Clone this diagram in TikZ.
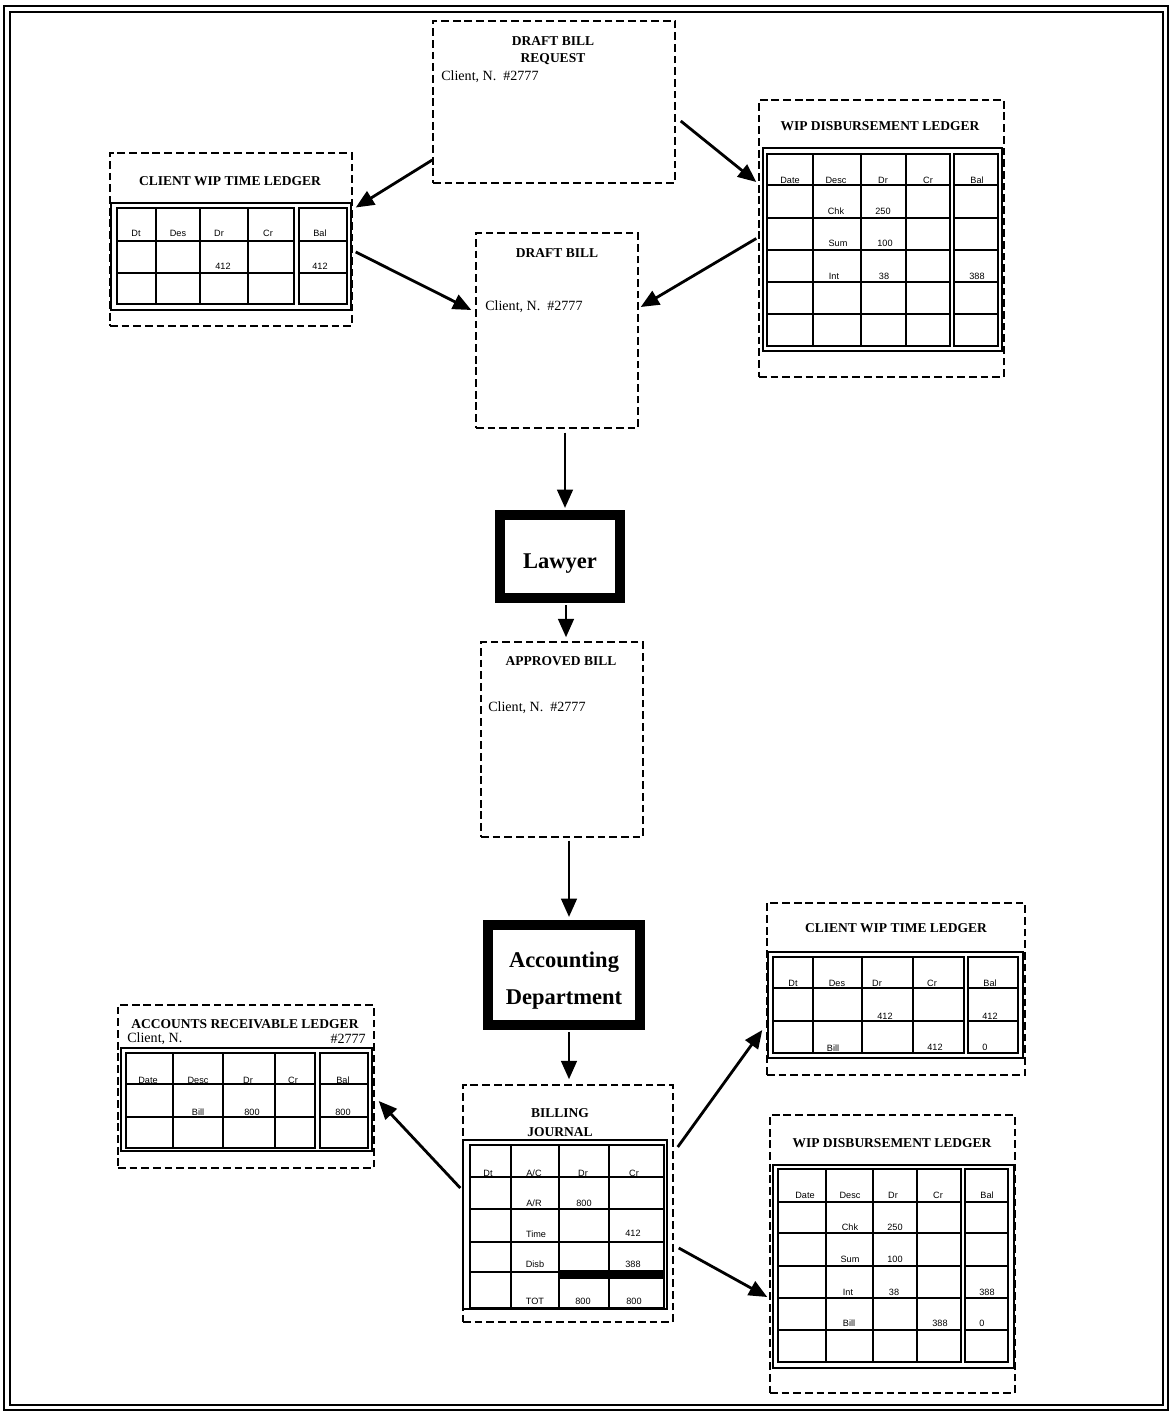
\documentclass[tikz,border=0pt]{standalone}
\usepackage{fontspec}
\setmainfont{Liberation Serif}
\setsansfont{Liberation Sans}
\usetikzlibrary{arrows.meta}

\begin{document}
\begin{tikzpicture}[x=0.025cm, y=-0.025cm]
\tikzstyle{every node}+=[inner sep=0pt]
\tikzstyle{doc}=[draw, rectangle, line width=1pt, dash pattern=on 5.5pt off 2.8pt]
\tikzstyle{actor}=[draw, rectangle, line width=0.25cm, font=\fontsize{16}{26.5}\selectfont\bfseries]
\tikzstyle{title}=[font=\fontsize{9.6}{11}\selectfont\bfseries]
\tikzstyle{client}=[anchor=west, font=\fontsize{10}{12}\selectfont]
\tikzstyle{cell}=[font=\fontsize{6.5}{7}\selectfont\sffamily]
\tikzstyle{tabout}=[line width=2pt, fill=white]
\tikzstyle{tabline}=[line width=1pt]
\tikzstyle{flow}=[line width=2pt, -{Triangle[length=13pt, width=11pt]}]
\useasboundingbox (0,0) rectangle (1174,1413);
% page frame
\draw [black, line width=1.5pt] (4,6) rectangle (1168,1410);
\draw [black, line width=1pt] (10,12) rectangle (1163,1405);
% documents and people
\node [doc, minimum width=6.05cm, minimum height=4.05cm] (req) at (554,102) {};
\node [doc, minimum width=4.05cm, minimum height=4.875cm] (dbill) at (557,330.5) {};
\node [actor, minimum width=3cm, minimum height=2.075cm] (lawyer) at (560,556.5) {\raisebox{-5pt}[\height][\depth]{Lawyer}};
\node [doc, minimum width=4.05cm, minimum height=4.875cm] (abill) at (562,739.5) {};
\node [actor, minimum width=3.8cm, minimum height=2.5cm] (acct) at (564,975) {\raisebox{-2.5pt}[\height][\depth]{\begin{tabular}{@{}c@{}}Accounting\\Department\end{tabular}}};
\node [doc, minimum width=5.25cm, minimum height=5.925cm] (bj) at (568,1203.5) {};
\node [doc, minimum width=6.05cm, minimum height=4.325cm] (ctl) at (231,239.5) {};
\node [doc, minimum width=6.125cm, minimum height=6.925cm] (wdl) at (881.5,238.5) {};
\node [doc, minimum width=6.4cm, minimum height=4.075cm] (arl) at (246,1086.5) {};
\node [doc, minimum width=6.45cm, minimum height=4.3cm] (ctlb) at (896,989) {};
\node [doc, minimum width=6.125cm, minimum height=6.95cm] (wdlb) at (892.5,1254) {};
% headings
\node [title] (reqt) at (553,41) {DRAFT BILL};
\node [title] (reqs) at (553,59) {REQUEST};
\node [client] (reqc) at (441,77) {Client, N.\ \ \#2777};
\node [title] (dbillt) at (557,253) {DRAFT BILL};
\node [client] (dbillc) at (485,307) {Client, N.\ \ \#2777};
\node [title] (abillt) at (561,661) {APPROVED BILL};
\node [client] (abillc) at (488,708) {Client, N.\ \ \#2777};
\node [title] (ctlt) at (230,181) {CLIENT WIP TIME LEDGER};
\node [title] (wdlt) at (880,126) {WIP DISBURSEMENT LEDGER};
\node [title] (arlt) at (245,1024) {ACCOUNTS RECEIVABLE LEDGER};
\node [client] (arlc) at (127,1039) {Client, N.};
\node [client, anchor=east] (arln) at (366,1039) {\#2777};
\node [title] (bjt) at (560,1113) {BILLING};
\node [title] (bjs) at (560,1132) {JOURNAL};
\node [title] (ctlbt) at (896,928) {CLIENT WIP TIME LEDGER};
\node [title] (wdlbt) at (892,1143) {WIP DISBURSEMENT LEDGER};
% client wip time ledger, top
\draw [tabout] (111,203) rectangle (351,310);
\draw [tabline] (117,208) rectangle (294,304) (299,208) rectangle (347,304);
\draw [tabline] (156,208) -- (156,304) (200,208) -- (200,304) (248,208) -- (248,304) (117,241) -- (294,241) (117,273) -- (294,273) (299,241) -- (347,241) (299,273) -- (347,273);
\node [cell] (ctl11) at (136,233) {Dt};
\node [cell] (ctl12) at (178,233) {Des};
\node [cell] (ctl13) at (219,233) {Dr};
\node [cell] (ctl14) at (268,233) {Cr};
\node [cell] (ctl15) at (320,233) {Bal};
\node [cell] (ctl23) at (223,266) {412};
\node [cell] (ctl25) at (320,266) {412};
% wip disbursement ledger, top
\draw [tabout] (763,148) rectangle (1002,351);
\draw [tabline] (767,154) rectangle (950,346) (954,154) rectangle (998,346);
\draw [tabline] (813,154) -- (813,346) (861,154) -- (861,346) (906,154) -- (906,346) (767,185) -- (950,185) (767,218) -- (950,218) (767,250) -- (950,250) (767,282) -- (950,282) (767,314) -- (950,314) (954,185) -- (998,185) (954,218) -- (998,218) (954,250) -- (998,250) (954,282) -- (998,282) (954,314) -- (998,314);
\node [cell] (wdl11) at (790,180) {Date};
\node [cell] (wdl12) at (836,180) {Desc};
\node [cell] (wdl13) at (883,180) {Dr};
\node [cell] (wdl14) at (928,180) {Cr};
\node [cell] (wdl15) at (977,180) {Bal};
\node [cell] (wdl22) at (836,211) {Chk};
\node [cell] (wdl23) at (883,211) {250};
\node [cell] (wdl32) at (838,243) {Sum};
\node [cell] (wdl33) at (885,243) {100};
\node [cell] (wdl42) at (834,276) {Int};
\node [cell] (wdl43) at (884,276) {38};
\node [cell] (wdl45) at (977,276) {388};
% accounts receivable ledger
\draw [tabout] (121,1048) rectangle (372,1151);
\draw [tabline] (126,1053) rectangle (315,1148) (320,1053) rectangle (368,1148);
\draw [tabline] (173,1053) -- (173,1148) (223,1053) -- (223,1148) (275,1053) -- (275,1148) (126,1084) -- (315,1084) (126,1117) -- (315,1117) (320,1084) -- (368,1084) (320,1117) -- (368,1117);
\node [cell] (arl11) at (148,1080) {Date};
\node [cell] (arl12) at (198,1080) {Desc};
\node [cell] (arl13) at (248,1080) {Dr};
\node [cell] (arl14) at (293,1080) {Cr};
\node [cell] (arl15) at (343,1080) {Bal};
\node [cell] (arl22) at (198,1112) {Bill};
\node [cell] (arl23) at (252,1112) {800};
\node [cell] (arl25) at (343,1112) {800};
% billing journal
\draw [tabout] (463,1140) rectangle (667,1309);
\draw [tabline] (470,1145) rectangle (664,1308);
\draw [tabline] (511,1145) -- (511,1308) (559,1145) -- (559,1308) (609,1145) -- (609,1308) (470,1177) -- (664,1177) (470,1209) -- (664,1209) (470,1242) -- (664,1242) (470,1272) -- (559,1272);
\fill [black] (559,1270) rectangle (664,1279);
\node [cell] (bj11) at (488,1173) {Dt};
\node [cell] (bj12) at (534,1173) {A/C};
\node [cell] (bj13) at (583,1173) {Dr};
\node [cell] (bj14) at (634,1173) {Cr};
\node [cell] (bj22) at (534,1203) {A/R};
\node [cell] (bj23) at (584,1203) {800};
\node [cell] (bj32) at (536,1234) {Time};
\node [cell] (bj34) at (633,1233) {412};
\node [cell] (bj42) at (535,1264) {Disb};
\node [cell] (bj44) at (633,1264) {388};
\node [cell] (bj52) at (535,1301) {TOT};
\node [cell] (bj53) at (583,1301) {800};
\node [cell] (bj54) at (634,1301) {800};
% client wip time ledger, bottom
\draw [tabout] (768,952) rectangle (1023,1058);
\draw [tabline] (773,957) rectangle (964,1053) (968,957) rectangle (1018,1053);
\draw [tabline] (813,957) -- (813,1053) (862,957) -- (862,1053) (913,957) -- (913,1053) (773,988) -- (964,988) (773,1021) -- (964,1021) (968,988) -- (1018,988) (968,1021) -- (1018,1021);
\node [cell] (ctlb11) at (793,983) {Dt};
\node [cell] (ctlb12) at (837,983) {Des};
\node [cell] (ctlb13) at (877,983) {Dr};
\node [cell] (ctlb14) at (932,983) {Cr};
\node [cell] (ctlb15) at (990,983) {Bal};
\node [cell] (ctlb23) at (885,1016) {412};
\node [cell] (ctlb25) at (990,1016) {412};
\node [cell] (ctlb32) at (833,1048) {Bill};
\node [cell] (ctlb34) at (935,1047) {412};
\node [cell] (ctlb35) at (985,1047) {0};
% wip disbursement ledger, bottom
\draw [tabout] (773,1165) rectangle (1014,1368);
\draw [tabline] (778,1169) rectangle (961,1362) (965,1169) rectangle (1008,1362);
\draw [tabline] (826,1169) -- (826,1362) (873,1169) -- (873,1362) (917,1169) -- (917,1362) (778,1202) -- (961,1202) (778,1233) -- (961,1233) (778,1266) -- (961,1266) (778,1298) -- (961,1298) (778,1330) -- (961,1330) (965,1202) -- (1008,1202) (965,1233) -- (1008,1233) (965,1266) -- (1008,1266) (965,1298) -- (1008,1298) (965,1330) -- (1008,1330);
\node [cell] (wdlb11) at (805,1195) {Date};
\node [cell] (wdlb12) at (850,1195) {Desc};
\node [cell] (wdlb13) at (893,1195) {Dr};
\node [cell] (wdlb14) at (938,1195) {Cr};
\node [cell] (wdlb15) at (987,1195) {Bal};
\node [cell] (wdlb22) at (850,1227) {Chk};
\node [cell] (wdlb23) at (895,1227) {250};
\node [cell] (wdlb32) at (850,1259) {Sum};
\node [cell] (wdlb33) at (895,1259) {100};
\node [cell] (wdlb42) at (848,1292) {Int};
\node [cell] (wdlb43) at (894,1292) {38};
\node [cell] (wdlb45) at (987,1292) {388};
\node [cell] (wdlb52) at (849,1323) {Bill};
\node [cell] (wdlb54) at (940,1323) {388};
\node [cell] (wdlb55) at (982,1323) {0};
% flow of the bill
\draw [flow] ([shift={(0,58)}]req.west) -- ([shift={(3,-32)}]ctl.east);
\draw [flow] ([shift={(5,19)}]req.east) -- ([shift={(-2,-56.5)}]wdl.west);
\draw [flow] ([shift={(3,12.5)}]ctl.east) -- ([shift={(-4,-20.5)}]dbill.west);
\draw [flow] ([shift={(-2,0)}]wdl.west) -- ([shift={(2,-23.5)}]dbill.east);
\draw [flow] ([shift={(8,4)}]dbill.south) -- ([shift={(5,-2)}]lawyer.north);
\draw [flow] ([shift={(6,2)}]lawyer.south) -- ([shift={(4,-4)}]abill.north);
\draw [flow] ([shift={(7,3)}]abill.south) -- ([shift={(5,-3)}]acct.north);
\draw [flow] ([shift={(5,2)}]acct.south) -- ([shift={(1,-5)}]bj.north);
\draw [flow] ([shift={(-2,-15.5)}]bj.west) -- ([shift={(4,14.5)}]arl.east);
\draw [flow] ([shift={(4,-56.5)}]bj.east) -- ([shift={(-4,41)}]ctlb.west);
\draw [flow] ([shift={(5,44.5)}]bj.east) -- ([shift={(-2,43)}]wdlb.west);
\end{tikzpicture}
\end{document}
